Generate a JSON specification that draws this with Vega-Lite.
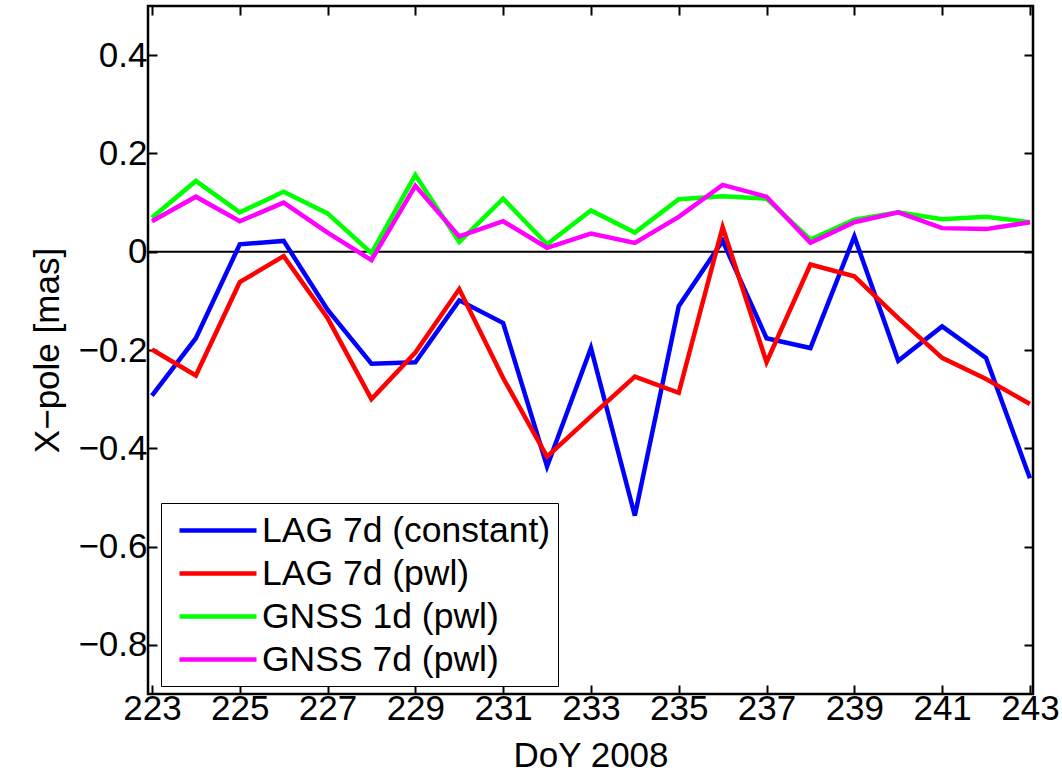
{
  "$schema": "https://vega.github.io/schema/vega-lite/v6.json",
  "autosize": "none",
  "width": 885,
  "height": 688,
  "padding": {"left": 148, "top": 6, "right": 29, "bottom": 80},
  "background": "white",
  "config": {
    "view": {"stroke": "black", "strokeWidth": 2.5},
    "axis": {
      "domain": false, "grid": false,
      "tickColor": "black", "tickWidth": 2, "tickSize": -9,
      "labelFont": "Liberation Sans", "labelFontSize": 35, "labelColor": "black",
      "titleFont": "Liberation Sans", "titleFontSize": 35, "titleFontWeight": "normal", "titleColor": "black"
    }
  },
  "datasets": {
    "series": [
      {"day": 223, "series": "LAG 7d (constant)", "value": -0.293},
      {"day": 224, "series": "LAG 7d (constant)", "value": -0.176},
      {"day": 225, "series": "LAG 7d (constant)", "value": 0.015},
      {"day": 226, "series": "LAG 7d (constant)", "value": 0.022},
      {"day": 227, "series": "LAG 7d (constant)", "value": -0.118},
      {"day": 228, "series": "LAG 7d (constant)", "value": -0.228},
      {"day": 229, "series": "LAG 7d (constant)", "value": -0.225},
      {"day": 230, "series": "LAG 7d (constant)", "value": -0.099},
      {"day": 231, "series": "LAG 7d (constant)", "value": -0.145},
      {"day": 232, "series": "LAG 7d (constant)", "value": -0.437},
      {"day": 233, "series": "LAG 7d (constant)", "value": -0.196},
      {"day": 234, "series": "LAG 7d (constant)", "value": -0.537},
      {"day": 235, "series": "LAG 7d (constant)", "value": -0.111},
      {"day": 236, "series": "LAG 7d (constant)", "value": 0.022},
      {"day": 237, "series": "LAG 7d (constant)", "value": -0.176},
      {"day": 238, "series": "LAG 7d (constant)", "value": -0.196},
      {"day": 239, "series": "LAG 7d (constant)", "value": 0.031},
      {"day": 240, "series": "LAG 7d (constant)", "value": -0.222},
      {"day": 241, "series": "LAG 7d (constant)", "value": -0.152},
      {"day": 242, "series": "LAG 7d (constant)", "value": -0.216},
      {"day": 243, "series": "LAG 7d (constant)", "value": -0.461},
      {"day": 223, "series": "LAG 7d (pwl)", "value": -0.199},
      {"day": 224, "series": "LAG 7d (pwl)", "value": -0.252},
      {"day": 225, "series": "LAG 7d (pwl)", "value": -0.062},
      {"day": 226, "series": "LAG 7d (pwl)", "value": -0.009},
      {"day": 227, "series": "LAG 7d (pwl)", "value": -0.135},
      {"day": 228, "series": "LAG 7d (pwl)", "value": -0.300},
      {"day": 229, "series": "LAG 7d (pwl)", "value": -0.205},
      {"day": 230, "series": "LAG 7d (pwl)", "value": -0.076},
      {"day": 231, "series": "LAG 7d (pwl)", "value": -0.257},
      {"day": 232, "series": "LAG 7d (pwl)", "value": -0.417},
      {"day": 233, "series": "LAG 7d (pwl)", "value": -0.335},
      {"day": 234, "series": "LAG 7d (pwl)", "value": -0.254},
      {"day": 235, "series": "LAG 7d (pwl)", "value": -0.287},
      {"day": 236, "series": "LAG 7d (pwl)", "value": 0.05},
      {"day": 237, "series": "LAG 7d (pwl)", "value": -0.225},
      {"day": 238, "series": "LAG 7d (pwl)", "value": -0.026},
      {"day": 239, "series": "LAG 7d (pwl)", "value": -0.050},
      {"day": 240, "series": "LAG 7d (pwl)", "value": -0.135},
      {"day": 241, "series": "LAG 7d (pwl)", "value": -0.216},
      {"day": 242, "series": "LAG 7d (pwl)", "value": -0.259},
      {"day": 243, "series": "LAG 7d (pwl)", "value": -0.310},
      {"day": 223, "series": "GNSS 1d (pwl)", "value": 0.069},
      {"day": 224, "series": "GNSS 1d (pwl)", "value": 0.144},
      {"day": 225, "series": "GNSS 1d (pwl)", "value": 0.080},
      {"day": 226, "series": "GNSS 1d (pwl)", "value": 0.122},
      {"day": 227, "series": "GNSS 1d (pwl)", "value": 0.078},
      {"day": 228, "series": "GNSS 1d (pwl)", "value": -0.003},
      {"day": 229, "series": "GNSS 1d (pwl)", "value": 0.156},
      {"day": 230, "series": "GNSS 1d (pwl)", "value": 0.020},
      {"day": 231, "series": "GNSS 1d (pwl)", "value": 0.108},
      {"day": 232, "series": "GNSS 1d (pwl)", "value": 0.015},
      {"day": 233, "series": "GNSS 1d (pwl)", "value": 0.084},
      {"day": 234, "series": "GNSS 1d (pwl)", "value": 0.039},
      {"day": 235, "series": "GNSS 1d (pwl)", "value": 0.107},
      {"day": 236, "series": "GNSS 1d (pwl)", "value": 0.113},
      {"day": 237, "series": "GNSS 1d (pwl)", "value": 0.108},
      {"day": 238, "series": "GNSS 1d (pwl)", "value": 0.025},
      {"day": 239, "series": "GNSS 1d (pwl)", "value": 0.065},
      {"day": 240, "series": "GNSS 1d (pwl)", "value": 0.080},
      {"day": 241, "series": "GNSS 1d (pwl)", "value": 0.066},
      {"day": 242, "series": "GNSS 1d (pwl)", "value": 0.071},
      {"day": 243, "series": "GNSS 1d (pwl)", "value": 0.060},
      {"day": 223, "series": "GNSS 7d (pwl)", "value": 0.062},
      {"day": 224, "series": "GNSS 7d (pwl)", "value": 0.112},
      {"day": 225, "series": "GNSS 7d (pwl)", "value": 0.062},
      {"day": 226, "series": "GNSS 7d (pwl)", "value": 0.100},
      {"day": 227, "series": "GNSS 7d (pwl)", "value": 0.039},
      {"day": 228, "series": "GNSS 7d (pwl)", "value": -0.017},
      {"day": 229, "series": "GNSS 7d (pwl)", "value": 0.134},
      {"day": 230, "series": "GNSS 7d (pwl)", "value": 0.031},
      {"day": 231, "series": "GNSS 7d (pwl)", "value": 0.062},
      {"day": 232, "series": "GNSS 7d (pwl)", "value": 0.008},
      {"day": 233, "series": "GNSS 7d (pwl)", "value": 0.037},
      {"day": 234, "series": "GNSS 7d (pwl)", "value": 0.018},
      {"day": 235, "series": "GNSS 7d (pwl)", "value": 0.071},
      {"day": 236, "series": "GNSS 7d (pwl)", "value": 0.136},
      {"day": 237, "series": "GNSS 7d (pwl)", "value": 0.112},
      {"day": 238, "series": "GNSS 7d (pwl)", "value": 0.018},
      {"day": 239, "series": "GNSS 7d (pwl)", "value": 0.060},
      {"day": 240, "series": "GNSS 7d (pwl)", "value": 0.080},
      {"day": 241, "series": "GNSS 7d (pwl)", "value": 0.048},
      {"day": 242, "series": "GNSS 7d (pwl)", "value": 0.046},
      {"day": 243, "series": "GNSS 7d (pwl)", "value": 0.060}
    ]
  },
  "layer": [
    {
      "data": {"values": [{"zero": 0}]},
      "mark": {"type": "rule", "color": "black", "strokeWidth": 2},
      "encoding": {
        "y": {"field": "zero", "type": "quantitative", "axis": null}
      }
    },
    {
      "data": {"name": "series"},
      "mark": {"type": "line", "strokeWidth": 4.5},
      "encoding": {
        "x": {
          "field": "day", "type": "quantitative",
          "scale": {"domain": [222.91, 243.07], "nice": false, "zero": false},
          "axis": {"orient": "bottom", "values": [223, 225, 227, 229, 231, 233, 235, 237, 239, 241, 243], "format": "d", "title": "DoY 2008", "labelPadding": 6, "titlePadding": 12}
        },
        "y": {
          "field": "value", "type": "quantitative",
          "scale": {"domain": [-0.9, 0.5], "nice": false, "zero": false},
          "axis": {"orient": "left", "values": [-0.8, -0.6, -0.4, -0.2, 0, 0.2, 0.4], "format": "~g", "title": "X−pole [mas]", "labelPadding": 10, "titlePadding": 12}
        },
        "color": {
          "field": "series", "type": "nominal",
          "scale": {
            "domain": ["LAG 7d (constant)", "LAG 7d (pwl)", "GNSS 1d (pwl)", "GNSS 7d (pwl)"],
            "range": ["#0000ff", "#ff0000", "#00ff00", "#ff00ff"]
          },
          "legend": {
            "orient": "none", "legendX": 13, "legendY": 497, "title": null,
            "symbolType": "M-0.514,0H3.886", "symbolSize": 1225, "symbolStrokeWidth": 4.5,
            "symbolFillColor": "transparent",
            "labelFont": "Liberation Sans", "labelFontSize": 35.5, "labelColor": "black",
            "labelOffset": 53.5, "labelLimit": 600,
            "padding": 7.5, "rowPadding": 4,
            "strokeColor": "black", "fillColor": "white"
          }
        }
      }
    },
    {
      "data": {"name": "series"},
      "mark": {"type": "line", "opacity": 0},
      "encoding": {
        "x": {
          "field": "day", "type": "quantitative",
          "axis": {"orient": "top", "values": [223, 225, 227, 229, 231, 233, 235, 237, 239, 241, 243], "labels": false, "title": null}
        },
        "y": {
          "field": "value", "type": "quantitative",
          "axis": {"orient": "right", "values": [-0.8, -0.6, -0.4, -0.2, 0, 0.2, 0.4], "labels": false, "title": null}
        },
        "detail": {"field": "series", "type": "nominal"}
      }
    }
  ],
  "resolve": {"axis": {"x": "independent", "y": "independent"}}
}
